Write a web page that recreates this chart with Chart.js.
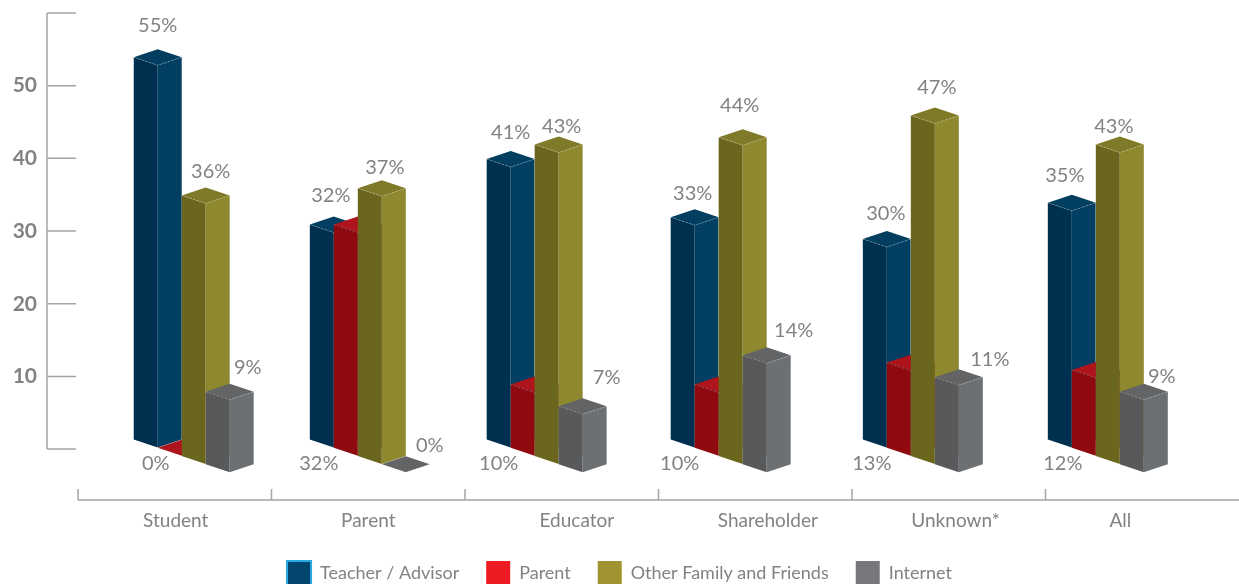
<!DOCTYPE html>
<html>
<head>
<meta charset="utf-8">
<style>
  html, body { margin: 0; padding: 0; background: #fff; overflow: hidden; }
  #wrap { width: 1239px; height: 584px; position: relative; }
</style>
<script src="https://cdn.jsdelivr.net/npm/chart.js@4/dist/chart.umd.js"></script>
</head>
<body>
<div id="wrap"><canvas id="c"></canvas></div>
<script>
// Survey shares by respondent group
const categories = ['Student', 'Parent', 'Educator', 'Shareholder', 'Unknown*', 'All'];
const seriesNames = ['Teacher / Advisor', 'Parent', 'Other Family and Friends', 'Internet'];
const teacherValues = [55, 32, 41, 33, 30, 35];
const parentValues = [0, 32, 10, 10, 13, 12];
const familyValues = [36, 37, 43, 44, 47, 43];
const internetValues = [9, 0, 7, 14, 11, 9];
const yTickValues = [0, 10, 20, 30, 40, 50, 60];
const yTickLabels = ['', '10', '20', '30', '40', '50', ''];

// Presentation tables, kept apart from the values
const FONT = 'Lato, "Open Sans", sans-serif';
const GREY_TEXT = '#808285';
const AXIS_COLOR = '#a3a5a8';
const LEGEND_PADDING = 27;
const groupShift = [0.098, 0.008, -0.078, -0.127, -0.134, -0.178];   // bar cluster offset, in bands
const nameShift = [0.005, 0, 0.078, 0.065, 0.035, -0.113];           // category name offset, in bands
const faceColors = [
  { left: '#00304f', right: '#023f63', top: '#023e60', swatch: '#03466d', edge: '#29abe2', edgeWidth: 2 },
  { left: '#8e0a0f', right: '#8e0a0f', top: '#ae141b', swatch: '#ed1c24', edge: '#ed1c24', edgeWidth: 0 },
  { left: '#6b661e', right: '#8e882e', top: '#7f7a28', swatch: '#a09430', edge: '#a09430', edgeWidth: 0 },
  { left: '#58595b', right: '#6c7073', top: '#626466', swatch: '#77787b', edge: '#77787b', edgeWidth: 0 }
];
// Value label offsets from each bar's top (or from the baseline for the Parent series)
const labelAnchors = ['top', 'base', 'top', 'top'];
const labelOffsets = [
  [[0, -24], [-3, -21], [0, -19], [-2, -16], [-1, -18], [-7, -19]],
  [[-26, 14], [-39, 14], [-36, 14], [-39, 14], [-39, 14], [-33, 14]],
  [[5, -16], [3, -13], [3, -10], [-3, -24], [2, -20], [-6, -10]],
  [[18, -16], [24, -4], [24, -21], [27, -17], [31, -10], [18, -7]]
];

// Bar controller that paints every element as a three-faced prism.
class PrismController extends Chart.BarController {
  draw() {
    const ctx = this.chart.ctx;
    const meta = this.getMeta();
    const order = meta.index;
    const colors = faceColors[order];
    const band = this.chart.scales.x.getPixelForValue(1) - this.chart.scales.x.getPixelForValue(0);
    meta.data.forEach((bar, i) => {
      const { x, y, base, width } = bar.getProps(['x', 'y', 'base', 'width'], false);
      const cx = x + groupShift[i] * band;
      const w = width;
      const d = w / 3;
      const front = base - 1.5 + order * 8.2;
      // a zero value collapses to a flat tile on the floor
      const frontTop = y === base ? front : Math.min(front, y + 2 * d);
      const poly = (pts, fill) => {
        ctx.beginPath();
        pts.forEach((p, k) => k ? ctx.lineTo(p[0], p[1]) : ctx.moveTo(p[0], p[1]));
        ctx.closePath();
        ctx.fillStyle = fill;
        ctx.fill();
      };
      ctx.save();
      if (front > frontTop) {
        poly([[cx - w, frontTop - d], [cx, frontTop], [cx, front], [cx - w, front - d]], colors.left);
        poly([[cx, frontTop], [cx + w, frontTop - d], [cx + w, front - d], [cx, front]], colors.right);
      }
      poly([[cx - w, frontTop - d], [cx, frontTop - 2 * d], [cx + w, frontTop - d], [cx, frontTop]], colors.top);
      // pale seam where the advisor bars meet their neighbours
      if (order === 0 && i > 0) {
        ctx.beginPath();
        ctx.moveTo(cx + w, frontTop - d);
        ctx.lineTo(cx + w, front - d);
        ctx.lineWidth = 0.75;
        ctx.strokeStyle = 'rgba(255,255,255,0.6)';
        ctx.stroke();
      }
      ctx.beginPath();
      ctx.moveTo(cx - w, frontTop - d);
      ctx.lineTo(cx, frontTop);
      ctx.lineTo(cx + w, frontTop - d);
      ctx.setLineDash([2, 2]);
      ctx.lineWidth = 0.75;
      ctx.strokeStyle = 'rgba(255,255,255,0.32)';
      ctx.stroke();
      ctx.restore();
    });
  }
}
PrismController.id = 'prism';
PrismController.defaults = Chart.BarController.defaults;
PrismController.overrides = Chart.BarController.overrides;
Chart.register(PrismController);

const axesAndLabels = {
  id: 'axesAndLabels',
  afterLayout(chart) {
    // legend row sits below its reserved box and runs to the page edge
    chart.legend.top = 561 - LEGEND_PADDING;
  },
  beforeDatasetsDraw(chart) {
    const { ctx, chartArea, scales: { x, y } } = chart;
    const band = x.getPixelForValue(1) - x.getPixelForValue(0);
    ctx.save();
    ctx.strokeStyle = AXIS_COLOR;
    ctx.lineWidth = 1.5;
    ctx.beginPath();
    // value axis with its tick marks
    const axisX = chartArea.left - 31;
    ctx.moveTo(axisX, y.getPixelForValue(yTickValues[0]));
    ctx.lineTo(axisX, y.getPixelForValue(yTickValues[yTickValues.length - 1]));
    yTickValues.forEach(v => {
      ctx.moveTo(axisX, y.getPixelForValue(v));
      ctx.lineTo(chartArea.left - 2, y.getPixelForValue(v));
    });
    // category axis with band separators
    ctx.moveTo(chartArea.left, chartArea.bottom);
    ctx.lineTo(chartArea.right, chartArea.bottom);
    categories.forEach((c, i) => {
      const px = x.getPixelForValue(i) - band / 2;
      ctx.moveTo(px, chartArea.bottom);
      ctx.lineTo(px, chartArea.bottom - 11);
    });
    ctx.stroke();
    // category names
    ctx.font = '19px ' + FONT;
    ctx.fillStyle = GREY_TEXT;
    ctx.textAlign = 'center';
    ctx.textBaseline = 'middle';
    categories.forEach((c, i) => {
      ctx.fillText(c, x.getPixelForValue(i) + nameShift[i] * band, chartArea.bottom + 21);
    });
    ctx.restore();

    // paint series first to last so later prisms overlap earlier ones
    chart.getSortedVisibleDatasetMetas().forEach(m => m.controller.draw());

    ctx.save();
    ctx.font = '20px ' + FONT;
    ctx.fillStyle = GREY_TEXT;
    ctx.textAlign = 'center';
    ctx.textBaseline = 'middle';
    chart.getSortedVisibleDatasetMetas().forEach(m => {
      const values = chart.data.datasets[m.index].data;
      m.data.forEach((bar, i) => {
        const anchorY = labelAnchors[m.index] === 'base' ? bar.base : bar.y;
        const off = labelOffsets[m.index][i];
        ctx.fillText(values[i] + '%', bar.x + groupShift[i] * band + off[0], anchorY + off[1]);
      });
    });
    ctx.restore();
    return false;
  }
};

const seriesValues = [teacherValues, parentValues, familyValues, internetValues];

new Chart(document.getElementById('c'), {
  type: 'prism',
  data: {
    labels: categories,
    datasets: seriesNames.map((name, i) => ({
      label: name,
      data: seriesValues[i],
      backgroundColor: faceColors[i].swatch
    }))
  },
  options: {
    responsive: true,
    maintainAspectRatio: false,
    animation: false,
    layout: { padding: { top: 13 } },
    categoryPercentage: 0.496,
    barPercentage: 1,
    scales: {
      x: {
        type: 'category',
        offset: true,
        grid: { display: false },
        border: { display: false },
        ticks: { display: false },
        afterFit(scale) { scale.height = 84 - scale.chart.legend.height; }
      },
      y: {
        min: -7,
        max: 60,
        grid: { display: false },
        border: { display: false },
        afterBuildTicks(scale) { scale.ticks = yTickValues.map(value => ({ value })); },
        ticks: {
          autoSkip: false,
          padding: 33,
          color: GREY_TEXT,
          font: { family: FONT, size: 21, weight: 'bold' },
          callback(value) { return yTickLabels[yTickValues.indexOf(value)]; }
        },
        afterFit(scale) {
          scale.width = 78;
          scale.paddingTop = 0;
          scale.paddingBottom = 0;
        }
      }
    },
    plugins: {
      tooltip: { enabled: false },
      legend: {
        position: 'bottom',
        labels: {
          boxWidth: 24,
          boxHeight: 24,
          padding: LEGEND_PADDING,
          color: GREY_TEXT,
          font: { family: FONT, size: 18 },
          generateLabels() {
            return seriesNames.map((name, i) => ({
              text: name,
              fillStyle: faceColors[i].swatch,
              strokeStyle: faceColors[i].edge,
              lineWidth: faceColors[i].edgeWidth,
              fontColor: GREY_TEXT,
              datasetIndex: i
            }));
          }
        }
      }
    }
  },
  plugins: [axesAndLabels]
});
</script>
</body>
</html>
